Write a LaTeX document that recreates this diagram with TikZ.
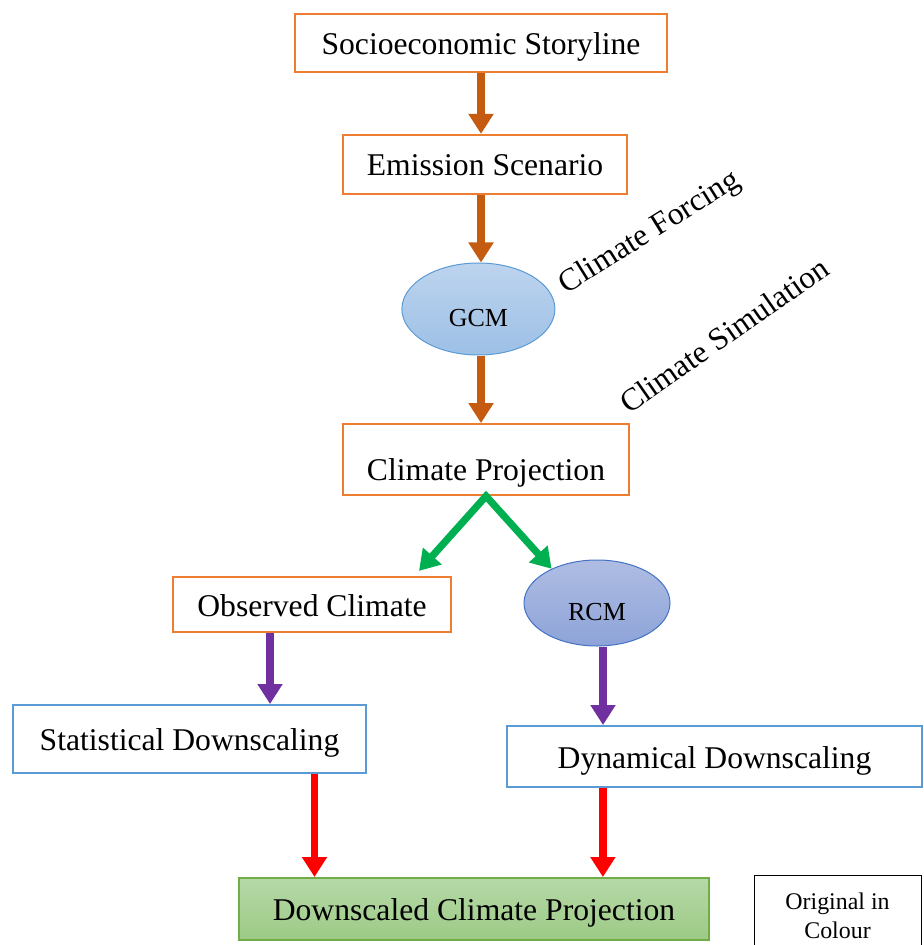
\documentclass[tikz,border=0pt]{standalone}
\usepackage{fontspec}
\setmainfont{Liberation Serif}
\usetikzlibrary{positioning,arrows.meta,shapes.geometric}
\definecolor{obrd}{HTML}{ED7D31}
\definecolor{bbrd}{HTML}{5B9BD5}
\definecolor{oarw}{HTML}{C55A11}
\definecolor{garw}{HTML}{00B050}
\definecolor{parw}{HTML}{7030A0}
\definecolor{gcmtop}{HTML}{BDD4EE}
\definecolor{gcmbot}{HTML}{9DC0E6}
\definecolor{rcmtop}{HTML}{AFBDE3}
\definecolor{rcmbot}{HTML}{8DA3D8}
\definecolor{rcmbrd}{HTML}{4472C4}
\definecolor{dcptop}{HTML}{B6D9A8}
\definecolor{dcpbot}{HTML}{9DCA85}
\definecolor{dcpbrd}{HTML}{70AD47}

\begin{document}
\begin{tikzpicture}[
      every node/.style={font=\fontsize{22.5}{27}\selectfont},
      obox/.style={draw=obrd,line width=0.05cm,fill=white,inner sep=0pt,text height=0.75cm,text depth=0.17cm},
      bbox/.style={draw=bbrd,line width=0.05cm,fill=white,inner sep=0pt,text height=0.75cm,text depth=0.17cm},
      ell/.style={ellipse,line width=0.025cm,inner sep=0pt,text height=0.89cm,text depth=0pt,font=\fontsize{18.5}{22}\selectfont},
      blk/.style={line width=0.18cm,-{Triangle[width=0.6cm,length=0.5cm]}}]
    \useasboundingbox (0,0) rectangle (23.075,-23.625);
    % Top column: storyline down to the projection
    \node[obox,minimum width=9.3cm,minimum height=1.45cm] (story) at (12.025,-1.075) {Socioeconomic Storyline};
    \node[obox,minimum width=7.1cm,minimum height=1.475cm] (emis) at (12.125,-4.11) {Emission Scenario};
    \node[ell,draw=bbrd,top color=gcmtop,bottom color=gcmbot,minimum width=3.825cm,minimum height=2.3cm] (gcm) at (11.96,-7.725) {GCM};
    \node[obox,minimum width=7.15cm,minimum height=1.775cm,text height=1.2cm,text depth=0.17cm] (proj) at (12.15,-11.49) {Climate Projection};
    % Rotated side labels
    \node[rotate=32] (force) at (16.25,-5.825) {Climate Forcing};
    \node[rotate=35] (sim) at (18.1,-8.375) {Climate Simulation};
    % Middle row: observed climate and RCM
    \node[obox,minimum width=6.95cm,minimum height=1.375cm] (obs) at (7.8,-15.11) {Observed Climate};
    \node[ell,draw=rcmbrd,top color=rcmtop,bottom color=rcmbot,minimum width=3.65cm,minimum height=2.15cm] (rcm) at (14.925,-15.075) {RCM};
    % Downscaling methods
    \node[bbox,minimum width=8.825cm,minimum height=1.7cm] (stat) at (4.7375,-18.475) {Statistical Downscaling};
    \node[bbox,minimum width=10.375cm,minimum height=1.525cm] (dyn) at (17.8625,-18.9125) {Dynamical Downscaling};
    % Bottom row: result + note
    \node[draw=dcpbrd,line width=0.05cm,top color=dcptop,bottom color=dcpbot,inner sep=0pt,text height=0.75cm,text depth=0.17cm,minimum width=11.75cm,minimum height=1.55cm] (dcp) at (11.85,-22.725) {Downscaled Climate Projection};
    \node[draw,line width=0.025cm,align=center,inner sep=0pt,minimum width=4.175cm,minimum height=2.05cm,font=\fontsize{17}{20.5}\selectfont] (note) at (20.9375,-22.9) {Original in\\Colour};
    % Orange arrows down the column
    \draw[blk,oarw] (story.south) -- (story.south |- emis.north);
    \draw[blk,oarw] (emis.south -| story.south) -- (story.south |- gcm.north);
    \draw[blk,oarw] (gcm.south -| story.south) -- (story.south |- proj.north);
    % Green split from the projection
    \coordinate (obsin) at ([shift={(-0.825cm,0.125cm)}]obs.north east);
    \draw[garw,line width=0.18cm,line join=miter,{Triangle[width=0.6cm,length=0.5cm]}-{Triangle[width=0.6cm,length=0.5cm]}] (obsin) -- (proj.south) -- (rcm.143);
    % Purple arrows into the downscaling boxes
    \draw[blk,parw] ([xshift=-1.05cm]obs.south) -- ([xshift=-1.05cm]obs.south |- stat.north);
    \draw[blk,parw] ([xshift=0.15cm]rcm.south) -- ([xshift=0.15cm]rcm.south |- dyn.north);
    % Red arrows to the result
    \draw[blk,red] ([xshift=3.125cm]stat.south) -- ([xshift=3.125cm]stat.south |- dcp.north);
    \draw[blk,red] ([xshift=-2.79cm]dyn.south) -- ([xshift=-2.79cm]dyn.south |- dcp.north);
  \end{tikzpicture}
\end{document}
